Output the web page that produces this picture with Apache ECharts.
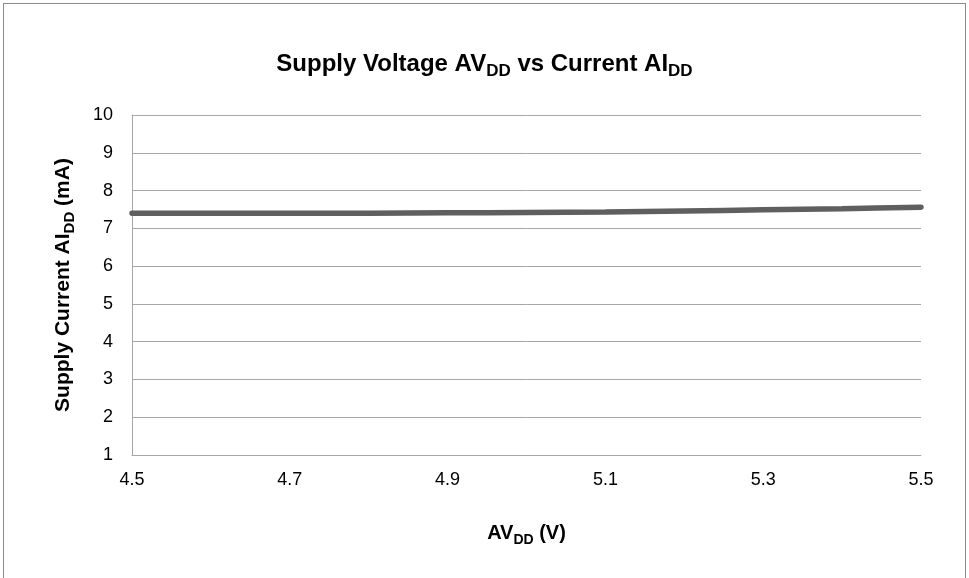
<!DOCTYPE html>
<html>
<head>
<meta charset="utf-8">
<script src="https://cdn.jsdelivr.net/npm/echarts@6/dist/echarts.min.js"></script>
<style>
html,body{margin:0;padding:0;background:#fff;overflow:hidden;}
#frame{position:absolute;left:3px;top:3px;width:963px;height:640px;border:1px solid #8c8c8c;box-sizing:border-box;}
#chart{position:absolute;left:0;top:0;width:969px;height:578px;}
</style>
</head>
<body>
<div id="frame"></div>
<div id="chart"></div>
<script>
const voltages = ['4.5','4.6','4.7','4.8','4.9','5.0','5.1','5.2','5.3','5.4','5.5'];
const currents = [7.40, 7.40, 7.40, 7.40, 7.41, 7.42, 7.43, 7.46, 7.49, 7.52, 7.56];
const yMin = 1, yMax = 10, yStep = 1;

const font = 'Liberation Sans, Arial, sans-serif';
const chart = echarts.init(document.getElementById('chart'));
chart.setOption({
  backgroundColor: 'transparent',
  animation: false,
  title: {
    text: '{m|Supply Voltage AV}{s|DD}{m| vs Current AI}{s|DD}',
    left: 'center',
    top: 43,
    textStyle: {
      rich: {
        m: {fontFamily: font, fontSize: 24, fontWeight: 'bold', color: '#000', lineHeight: 32},
        s: {fontFamily: font, fontSize: 17, fontWeight: 'bold', color: '#000', lineHeight: 16, verticalAlign: 'bottom'}
      }
    }
  },
  grid: {left: 132, right: 48, top: 115, bottom: 123},
  xAxis: {
    type: 'category',
    data: voltages,
    boundaryGap: false,
    axisLine: {show: true, lineStyle: {color: '#a6a6a6', width: 1}},
    axisTick: {show: false},
    axisLabel: {interval: 1, color: '#000', fontFamily: font, fontSize: 18, margin: 16},
    splitLine: {show: false},
    name: '{m|AV}{s|DD}{m| (V)}',
    nameLocation: 'middle',
    nameGap: 64,
    nameTextStyle: {
      rich: {
        m: {fontFamily: font, fontSize: 20, fontWeight: 'bold', color: '#000', lineHeight: 28},
        s: {fontFamily: font, fontSize: 14, fontWeight: 'bold', color: '#000', lineHeight: 14, verticalAlign: 'bottom'}
      }
    }
  },
  yAxis: {
    type: 'value',
    min: yMin, max: yMax, interval: yStep,
    axisLine: {show: true, lineStyle: {color: '#a6a6a6', width: 1}},
    axisTick: {show: false},
    axisLabel: {color: '#000', fontFamily: font, fontSize: 18, margin: 19},
    splitLine: {show: true, lineStyle: {color: '#a6a6a6', width: 1}},
    name: '{m|Supply Current AI}{s|DD}{m| (mA)}',
    nameLocation: 'middle',
    nameGap: 55,
    nameRotate: 90,
    nameTextStyle: {
      rich: {
        m: {fontFamily: font, fontSize: 21, fontWeight: 'bold', color: '#000', lineHeight: 28},
        s: {fontFamily: font, fontSize: 15, fontWeight: 'bold', color: '#000', lineHeight: 14, verticalAlign: 'bottom'}
      }
    }
  },
  series: [{
    type: 'line',
    data: currents,
    smooth: 0.3,
    symbol: 'none',
    lineStyle: {color: '#5f5f5f', width: 5.5, cap: 'round'}
  }]
});
</script>
</body>
</html>
